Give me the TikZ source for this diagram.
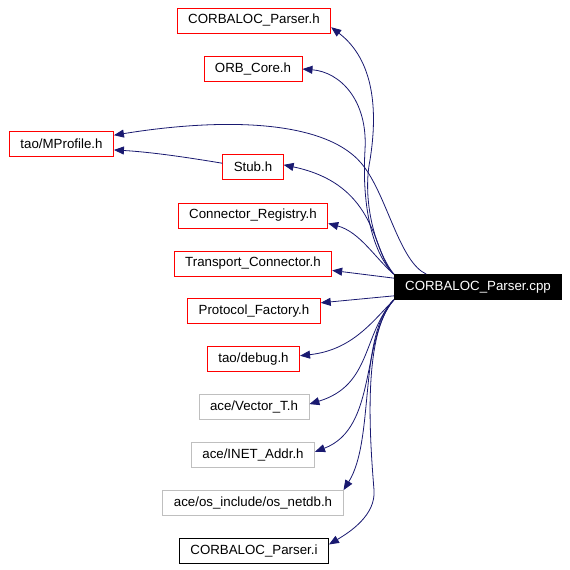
\documentclass[tikz,border=0pt]{standalone}
\usepackage{fontspec}
\setmainfont{Liberation Sans}
\usetikzlibrary{arrows.meta}
\usepackage{xcolor}
\definecolor{edgeblue}{RGB}{25,25,112}
\definecolor{boxgray}{RGB}{191,191,191}

\begin{document}
\begin{tikzpicture}[x=1pt,y=-1pt,
		dep/.style={draw=edgeblue, line width=0.8pt, -{Triangle[length=10pt,width=8pt]}}]
		\tikzstyle{every node}=[draw, rectangle, minimum height=25pt, inner xsep=11pt, inner ysep=0pt, line width=0.8pt, font=\fontsize{13.3}{15}\selectfont]
		\tikzstyle{redbox}=[draw=red]
		\tikzstyle{graybox}=[draw=boxgray]
		\useasboundingbox (0,0) rectangle (570,570);
		\node [redbox] (corbh) at (254,20.5) {CORBALOC\_Parser.h};
		\node [redbox] (orb) at (253,69) {ORB\_Core.h};
		\node [redbox] (mprof) at (61.5,143.5) {tao/MProfile.h};
		\node [redbox] (stub) at (253,167) {Stub.h};
		\node [redbox] (connreg) at (253,215.5) {Connector\_Registry.h};
		\node [redbox] (transp) at (253,263.5) {Transport\_Connector.h};
		\node [fill=black, text=white] (cpp) at (478,287) {CORBALOC\_Parser.cpp};
		\node [redbox] (protf) at (254,311) {Protocol\_Factory.h};
		\node [redbox] (debug) at (253.5,359) {tao/debug.h};
		\node [graybox] (vect) at (254,407) {ace/Vector\_T.h};
		\node [graybox] (inet) at (253,455) {ace/INET\_Addr.h};
		\node [graybox] (netdb) at (253,503) {ace/os\_include/os\_netdb.h};
		\node (corbi) at (254,551) {CORBALOC\_Parser.i};
		\draw [dep] (cpp.north west) .. controls (375,250) and (362,200) .. (370,160)
			.. controls (378,110) and (374,60) .. (corbh.-5);
		\draw [dep] (cpp.north west) .. controls (370,250) and (362,200) .. (365,150)
			.. controls (368,100) and (340,72) .. (orb.east);
		\draw [dep] (cpp.166) .. controls (400,262) and (388,200) .. (365,168)
			.. controls (330,118) and (220,118) .. (mprof.9);
		\draw [dep] (cpp.north west) .. controls (372,255) and (380,185) .. (stub.4);
		\draw [dep] (stub.173) .. controls (185,157) and (150,152) .. (mprof.-7);
		\draw [dep] (cpp.north west) .. controls (375,258) and (360,232) .. (connreg.-6);
		\draw [dep] (cpp.174) -- (transp.-5);
		\draw [dep] (cpp.186) -- (protf.7);
		\draw [dep] (cpp.south west) .. controls (372,322) and (352,350) .. (debug.4);
		\draw [dep] (cpp.south west) .. controls (362,335) and (372,385) .. (vect.3);
		\draw [dep] (cpp.south west) .. controls (360,340) and (378,428) .. (inet.3);
		\draw [dep] (cpp.south west) .. controls (358,335) and (375,440) .. (netdb.north east);
		\draw [dep] (cpp.south west) .. controls (362,335) and (370,440) .. (374,490)
			.. controls (376,515) and (350,532) .. (corbi.5);
\end{tikzpicture}
\end{document}
